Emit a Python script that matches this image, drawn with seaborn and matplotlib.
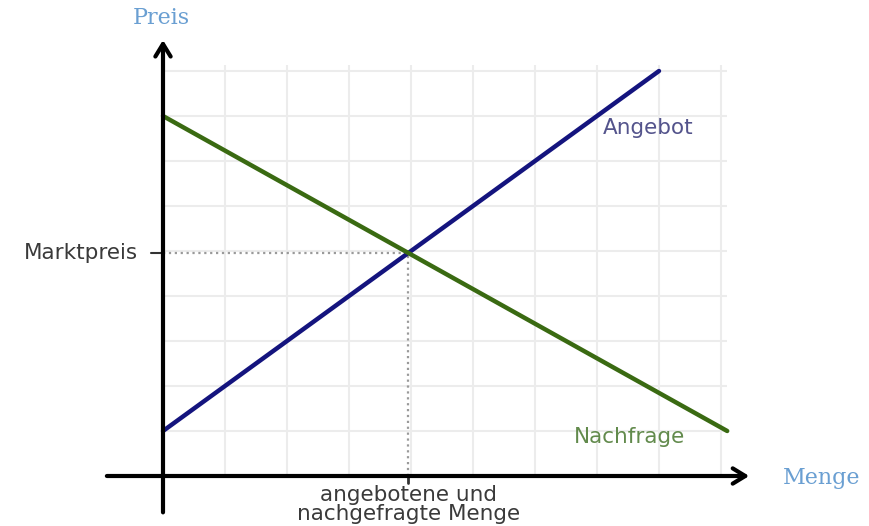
import numpy as np
import pandas as pd
import matplotlib
matplotlib.use('Agg')
import matplotlib.pyplot as plt
import seaborn as sns

# Angebot / Nachfrage (Mengeneinheiten = Gitterfelder)
menge = [0, 8, 0, 9.1]
preis = [1, 9, 8, 1]
kurve = ['Angebot', 'Angebot', 'Nachfrage', 'Nachfrage']
gitter = [1, 2, 3, 4, 5, 6, 7, 8, 9]

data = pd.DataFrame({'Menge': menge, 'Preis': preis, 'Kurve': kurve})

# Schnittpunkt der beiden Geraden
s1 = (preis[1] - preis[0]) / (menge[1] - menge[0])
s2 = (preis[3] - preis[2]) / (menge[3] - menge[2])
x_eq = (preis[2] - preis[0]) / (s1 - s2)
y_eq = preis[0] + s1 * x_eq

sns.set_style('white')
fig = plt.figure(figsize=(8.69, 5.26), dpi=100)
ax = fig.add_axes([0, 0, 1, 1])
ax.set_xlim(-163 / 62, (869 - 163) / 62)
ax.set_ylim((476 - 526) / 45, 476 / 45)
ax.axis('off')

# Gitter
ax.vlines(gitter, 0, 9.13, color='#ececec', lw=1.5, zorder=0)
ax.hlines(gitter, 0, 9.1, color='#ececec', lw=1.5, zorder=0)

sns.lineplot(data=data, x='Menge', y='Preis', hue='Kurve',
             palette={'Angebot': '#14147e', 'Nachfrage': '#3a6a12'},
             lw=3.2, legend=False, ax=ax, zorder=3)

# gepunktete Hilfslinien
ax.plot([0, x_eq], [y_eq, y_eq], ls=':', color='#9a9a9a', lw=1.6, zorder=2)
ax.plot([x_eq, x_eq], [0, y_eq], ls=':', color='#9a9a9a', lw=1.6, zorder=2)

# Achsen mit Pfeilen
ax.annotate('', xy=(9.5, 0), xytext=(-0.95, 0),
            arrowprops=dict(arrowstyle='->,head_length=0.9,head_width=0.55',
                            lw=3, color='black'), zorder=4)
ax.annotate('', xy=(0, 9.75), xytext=(0, -0.87),
            arrowprops=dict(arrowstyle='->,head_length=0.9,head_width=0.55',
                            lw=3, color='black'), zorder=4)
ax.plot([-0.2, 0], [y_eq, y_eq], color='#333333', lw=1.5)
ax.plot([x_eq, x_eq], [0, -0.16], color='#333333', lw=2)

# Beschriftungen
ax.text(-0.03, 10.18, 'Preis', family='DejaVu Serif', fontsize=16,
        color='#6a9fd2', ha='center', va='center')
ax.text(10.0, -0.04, 'Menge', family='DejaVu Serif', fontsize=16,
        color='#6a9fd2', ha='left', va='center')
ax.text(-0.4, y_eq, 'Marktpreis', fontsize=15.5, color='#3a3a3a',
        ha='right', va='center')
ax.text(x_eq, -0.2, 'angebotene und\nnachgefragte Menge', fontsize=15.5,
        color='#3a3a3a', ha='center', va='top', linespacing=0.95)
ax.text(7.1, 7.73, 'Angebot', fontsize=15.5, color='#54548c',
        ha='left', va='center')
ax.text(6.63, 0.87, 'Nachfrage', fontsize=15.5, color='#628a4c',
        ha='left', va='center')

plt.savefig('out.png', dpi=100)
